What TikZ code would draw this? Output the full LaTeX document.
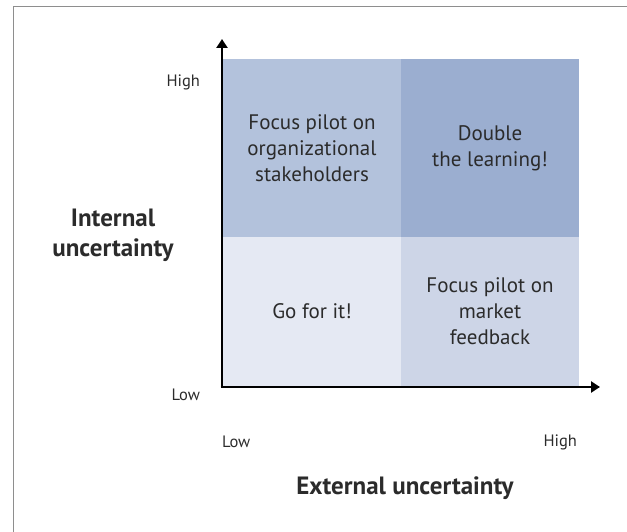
\documentclass[tikz,border=0pt]{standalone}
\usepackage{fontspec}
\setmainfont{PT Sans}
\usetikzlibrary{arrows.meta}

\definecolor{hihi}{HTML}{9BAED0}
\definecolor{lohi}{HTML}{B3C2DC}
\definecolor{hilo}{HTML}{CDD5E7}
\definecolor{lolo}{HTML}{E5E9F3}
\definecolor{txt}{HTML}{2B2B2B}
\definecolor{frame}{HTML}{8E8E8E}

\begin{document}
\begin{tikzpicture}[x=1pt,y=-1pt,inner sep=0pt,outer sep=0pt,
quadrant/.style={rectangle,minimum width=178pt,anchor=north west,align=center,text=txt,font=\fontsize{21}{26}\selectfont},
ticklabel/.style={text=txt,font=\fontsize{16.5}{18}\selectfont},
axistitle/.style={text=txt,align=center,font=\fontsize{25}{30}\selectfont\bfseries},
axis/.style={line width=2.6pt,-{Triangle[length=9pt,width=11pt]}}]

\useasboundingbox (0,0) rectangle (627,532);
\draw[frame,line width=1.4pt] (13.5,532) -- (13.5,6.5) -- (627,6.5);

\draw (223,59) node[quadrant,fill=lohi,minimum height=178pt] (tl) {Focus pilot on\\organizational\\stakeholders};
\draw (401,59) node[quadrant,fill=hihi,minimum height=178pt] (tr) {Double\\the learning!};
\draw (223,237) node[quadrant,fill=lolo,minimum height=149pt] (bl) {Go for it!};
\draw (401,237) node[quadrant,fill=hilo,minimum height=149pt] (br) {Focus pilot on\\market\\feedback};

\coordinate (origin) at (222,387);
\coordinate (ytip) at (222,39);
\coordinate (xtip) at (600,387);
\draw[axis] (origin) -- (ytip);
\draw[axis] ([xshift=-1.3pt]origin) -- (xtip);

\draw (200,82) node[ticklabel,anchor=east] (yhigh) {High};
\draw (200,395) node[ticklabel,anchor=east] (ylow) {Low};
\draw (222,442) node[ticklabel,anchor=west] (xlow) {Low};
\draw (577,442) node[ticklabel,anchor=east] (xhigh) {High};

\draw (113,235) node[axistitle] (ylabel) {Internal\\uncertainty};
\draw (405,488) node[axistitle] (xlabel) {External uncertainty};

\end{tikzpicture}
\end{document}
